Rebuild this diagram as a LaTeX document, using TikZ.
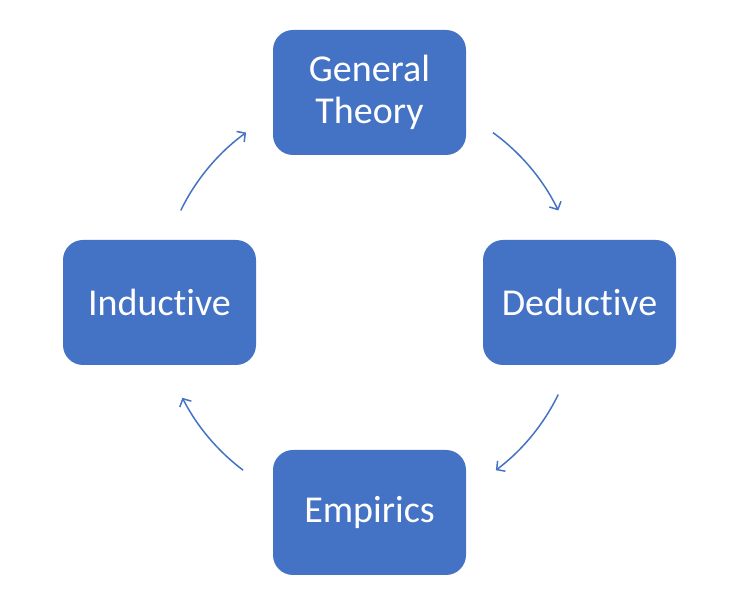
\documentclass[tikz,border=0pt]{standalone}
\usepackage{fontspec}
\setmainfont{Carlito}[RawFeature=-liga]
\usepackage{tikz}
\usetikzlibrary{arrows.meta, positioning}

\definecolor{officeblue}{HTML}{4472C4}

\begin{document}
\begin{tikzpicture}[
  stage/.style={rectangle, rounded corners=20pt, fill=officeblue,
                minimum width=193pt, minimum height=125pt, inner sep=0pt,
                align=center, text=white,
                font=\fontsize{38}{42}\selectfont},
  arrow/.style={-{Straight Barb[length=6pt, width=13pt]}, officeblue,
                line width=1.5pt},
]
  \useasboundingbox (0,0) rectangle (732pt,600pt);
  \coordinate (hub) at (369.5pt,297.5pt);

  \node[stage] (theory)    at ([yshift=210pt]hub)  {General\\Theory};
  \node[stage] (deductive) at ([xshift=210pt]hub)  {Deductive};
  \node[stage] (empirics)  at ([yshift=-210pt]hub) {Empirics};
  \node[stage] (inductive) at ([xshift=-210pt]hub) {Inductive};

  % arcs of one circle round the hub
  \draw[arrow] ([shift={(54:210pt)}]hub)   arc[start angle=54,   end angle=26,   radius=210pt];
  \draw[arrow] ([shift={(-26:210pt)}]hub)  arc[start angle=-26,  end angle=-53,  radius=210pt];
  \draw[arrow] ([shift={(-127:210pt)}]hub) arc[start angle=-127, end angle=-153, radius=210pt];
  \draw[arrow] ([shift={(154:210pt)}]hub)  arc[start angle=154,  end angle=126,  radius=210pt];
\end{tikzpicture}
\end{document}
